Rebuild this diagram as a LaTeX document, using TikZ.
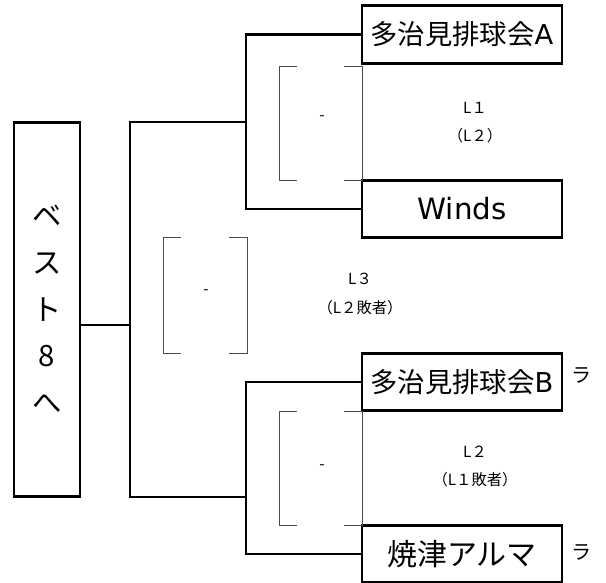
\documentclass[tikz,border=0pt]{standalone}
\usepackage{fontspec}
\setmainfont{DejaVu Sans}
\newfontfamily\jp{Noto Sans CJK JP}
\usetikzlibrary{positioning,calc}

\begin{document}
\begin{tikzpicture}[
    x=0.75pt, y=-0.75pt,
    team/.style={draw, line width=2.2pt, minimum width=150pt, minimum height=43pt, inner sep=0pt},
    wire/.style={line width=2.2pt},
    score/.style={draw=black!70, line width=0.6pt},
    note/.style={font=\jp\fontsize{11.5}{21.5}\selectfont, align=center}
]
\useasboundingbox (0,0) rectangle (606,582);

\node[team, minimum width=49.5pt, minimum height=281pt, align=center,
      font=\jp\fontsize{22}{35}\selectfont] (best) at (47,309.5) {ベ\\ス\\ト\\8\\へ};

\node[team, font=\fontsize{20.5}{24}\selectfont] (tajimiA) at (462,34.5) {{\jp 多治見排球会}A};
\node[team, font=\fontsize{22}{24}\selectfont] (winds) at (462,209) {Winds};
\node[team, font=\fontsize{20.5}{24}\selectfont] (tajimiB) at (462,382) {{\jp 多治見排球会}B};
\node[team, font=\jp\fontsize{22.5}{24}\selectfont] (alma) at (462,554) {焼津アルマ};

\node[font=\jp\fontsize{15}{17}\selectfont] (raB) at (581,375) {ラ};
\node[font=\jp\fontsize{15}{17}\selectfont] (raAlma) at (581,552) {ラ};

% bracket lines
\coordinate (semiA) at (246,122);
\coordinate (semiB) at (246,497);
\coordinate (final) at (130,325);
\draw[wire] (tajimiA.west) -| (semiA) |- (winds.west);
\draw[wire] (tajimiB.west) -| (semiB) |- (alma.west);
\draw[wire] (semiA) -| (final) |- (semiB);
\draw[wire] (best.east |- final) -- (final);

% score boxes
\foreach \l/\r/\t/\b in {279/362/66/180, 163/247/237/353, 279/362/411/525} {
  \draw[score] (\l+18,\t) -- (\l,\t) -- (\l,\b) -- (\l+18,\b);
  \draw[score] (\r-18,\t) -- (\r,\t) -- (\r,\b) -- (\r-18,\b);
}

\node[note] (scoreL1) at (322,118) {-};
\node[note] (scoreL3) at (206,292) {-};
\node[note] (scoreL2) at (322,467) {-};

\node[note] (matchL1) at (475,122.5) {L１\\（L２）};
\node[note] (matchL3) at (360,294) {L３\\（L２敗者）};
\node[note] (matchL2) at (475,466.5) {L２\\（L１敗者）};

\end{tikzpicture}
\end{document}
